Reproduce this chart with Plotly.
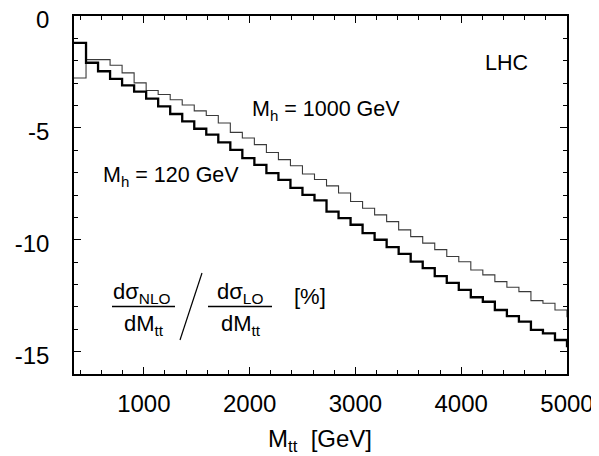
import plotly.graph_objects as go

# ---- data ----
# bin edges of M_tt [GeV]; last point at 5000 carries the overflow step
mtt_edges = [340.0, 453.7, 567.3, 681.0, 794.6, 908.3, 1022.0, 1135.6, 1249.3, 1362.9,
             1476.6, 1590.3, 1703.9, 1817.6, 1931.2, 2044.9, 2158.6, 2272.2, 2385.9, 2499.5,
             2613.2, 2726.9, 2840.5, 2954.2, 3067.8, 3181.5, 3295.2, 3408.8, 3522.5, 3636.1,
             3749.8, 3863.5, 3977.1, 4090.8, 4204.4, 4318.1, 4431.8, 4545.4, 4659.1, 4772.7,
             4886.4, 5000.0]

# NLO/LO ratio [%], M_h = 120 GeV (thick line)
ratio_mh120 = [-1.20, -2.09, -2.47, -2.81, -3.10, -3.38, -3.69, -4.04, -4.38, -4.71,
               -5.04, -5.30, -5.65, -5.98, -6.35, -6.65, -7.02, -7.32, -7.68, -7.99,
               -8.24, -8.74, -9.03, -9.33, -9.70, -10.00, -10.33, -10.63, -10.98, -11.27,
               -11.63, -11.93, -12.24, -12.57, -12.77, -13.14, -13.41, -13.66, -14.03, -14.18,
               -14.48, -14.81]

# NLO/LO ratio [%], M_h = 1000 GeV (thin line)
ratio_mh1000 = [-2.77, -1.95, -1.95, -2.20, -2.54, -2.99, -3.33, -3.51, -3.74, -3.98,
                -4.24, -4.45, -4.78, -5.20, -5.45, -5.75, -6.10, -6.42, -6.69, -7.06,
                -7.31, -7.59, -7.91, -8.29, -8.59, -8.89, -9.19, -9.56, -9.86, -10.15,
                -10.44, -10.75, -10.98, -11.35, -11.57, -11.87, -12.12, -12.32, -12.72, -12.84,
                -13.14, -13.46]

x_tickvals = [1000, 2000, 3000, 4000, 5000]
x_ticktext = ["1000", "2000", "3000", "4000", "5000"]
y_tickvals = [0, -5, -10, -15]
y_ticktext = ["0", "-5", "-10", "-15"]

x_range = [340, 5000]
y_range = [-16, 0]

# ---- layout geometry (pixels, in window coordinates) ----
WIN_W, WIN_H = 599, 456
OFF = 8  # default page body margin
L, R, T, B = 74, 567, 16, 374
FONT = "Liberation Sans, Arial, Helvetica, sans-serif"


def px(x):
    return (x - L) / (R - L)


def py(y):
    return (B - y) / (B - T)


fig = go.Figure()
fig.add_trace(go.Scatter(x=mtt_edges, y=ratio_mh1000, mode="lines",
                         line=dict(shape="hv", color="#3a3a3a", width=1.1),
                         name="M_h = 1000 GeV"))
fig.add_trace(go.Scatter(x=mtt_edges, y=ratio_mh120, mode="lines",
                         line=dict(shape="hv", color="black", width=2.3),
                         name="M_h = 120 GeV"))

axis_common = dict(
    showgrid=False, zeroline=False, showline=True, linecolor="black", linewidth=1.6,
    mirror="ticks", ticks="inside", tickcolor="black", tickwidth=1.2, ticklen=7,
    tickfont=dict(family=FONT, size=24, color="black"), automargin=False,
    ticklabeloverflow="allow",
)

fig.update_layout(
    width=WIN_W - OFF, height=WIN_H - OFF,
    margin=dict(l=L - OFF, r=WIN_W - R, t=T - OFF, b=WIN_H - B, pad=0, autoexpand=False),
    paper_bgcolor="white", plot_bgcolor="white",
    showlegend=False,
    font=dict(family=FONT, color="black"),
    xaxis=dict(range=x_range, tickmode="array", tickvals=x_tickvals, ticktext=x_ticktext,
               ticklabelstandoff=7,
               minor=dict(tick0=0, dtick=200, ticks="inside", ticklen=4, tickcolor="black", tickwidth=1),
               **axis_common),
    yaxis=dict(range=y_range, tickmode="array", tickvals=y_tickvals, ticktext=y_ticktext,
               ticklabelstandoff=18, ticklabelshift=4,
               minor=dict(tick0=0, dtick=1, ticks="inside", ticklen=4, tickcolor="black", tickwidth=1),
               **axis_common),
)

ann_font = dict(family=FONT, size=21.5, color="black")
frac_font = dict(family=FONT, size=22, color="black")


def note(text, x, y, font, xanchor="center"):
    fig.add_annotation(text=text, x=px(x), y=py(y), xref="paper", yref="paper",
                       showarrow=False, xanchor=xanchor, yanchor="middle", font=font)


note("LHC", 506, 63, ann_font)
note("M<sub>h</sub> = 1000 GeV", 250, 110, ann_font, xanchor="left")
note("M<sub>h</sub> = 120 GeV", 101, 176, ann_font, xanchor="left")

# ratio label
note("d\u03c3<sub>NLO</sub>", 142, 293, frac_font)
note("dM<sub>tt</sub>", 144, 325, frac_font)
note("d\u03c3<sub>LO</sub>", 240, 293, frac_font)
note("dM<sub>tt</sub>", 241, 325, frac_font)
note("[%]", 310, 296, frac_font)

# x-axis title
fig.add_annotation(text="M<sub>tt</sub>&nbsp; [GeV]", x=px(320), y=py(441), xref="paper", yref="paper",
                   showarrow=False, xanchor="center", yanchor="middle",
                   font=dict(family=FONT, size=24, color="black"))

for x0, x1 in [(112, 175), (208, 272)]:
    fig.add_shape(type="line", xref="paper", yref="paper", x0=px(x0), x1=px(x1),
                  y0=py(306.5), y1=py(306.5), line=dict(color="black", width=1.4))
fig.add_shape(type="line", xref="paper", yref="paper", x0=px(180), y0=py(340),
              x1=px(202), y1=py(273), line=dict(color="black", width=1.2))

fig.write_html("out.html")
